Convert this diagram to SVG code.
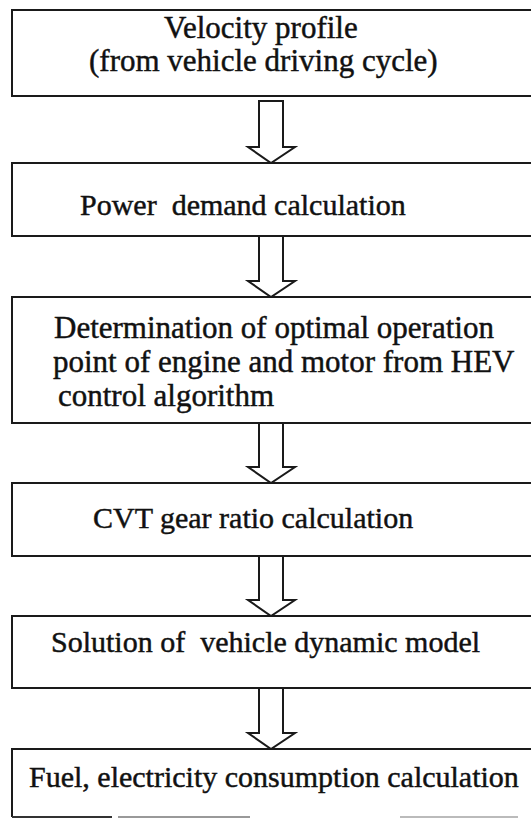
<svg xmlns="http://www.w3.org/2000/svg" width="531" height="819" viewBox="0 0 531 819">
<style>
.box{fill:#fff;stroke:#1a1a1a;stroke-width:2}
.arr{fill:#fff;stroke:#1a1a1a;stroke-width:2;stroke-linejoin:miter}
.t{font-family:"Liberation Serif","Times New Roman",serif;font-size:30px;fill:#111;stroke:#111;stroke-width:0.45;white-space:pre}
</style>
<rect x="0" y="0" width="531" height="819" fill="#fff"/>
<g id="connectors">
<path class="arr" d="M259,101 V147 H248 L271,163 L295,147 H283 V101 Z"/>
<path class="arr" d="M259,237 V281 H248 L271,297 L295,281 H283 V237"/>
<path class="arr" d="M259,424 V467 H248 L271,483 L295,467 H283 V424"/>
<path class="arr" d="M259,557 V600 H248 L271,616 L295,600 H283 V557"/>
<path class="arr" d="M259,688 V733 H248 L271,749 L295,733 H283 V688"/>
</g>
<g id="n1">
<rect class="box" x="12" y="10" width="530" height="86"/>
<text class="t" x="164" y="38" style="font-size:31px">Velocity profile</text>
<text class="t" x="89" y="71" style="font-size:31px">(from vehicle driving cycle)</text>
</g>
<g id="n2">
<rect class="box" x="12" y="163" width="530" height="73"/>
<text class="t" x="80" y="215">Power  demand calculation</text>
</g>
<g id="n3">
<rect class="box" x="12" y="297" width="530" height="126"/>
<text class="t" x="54" y="338" style="font-size:31px">Determination of optimal operation</text>
<text class="t" x="53" y="372" style="font-size:31px">point of engine and motor from HEV</text>
<text class="t" x="58" y="406" style="font-size:31px">control algorithm</text>
</g>
<g id="n4">
<rect class="box" x="12" y="483" width="530" height="73"/>
<text class="t" x="93" y="528">CVT gear ratio calculation</text>
</g>
<g id="n5">
<rect class="box" x="12" y="616" width="530" height="72"/>
<text class="t" x="51" y="652">Solution of  vehicle dynamic model</text>
</g>
<g id="n6">
<path class="box" d="M542,749 H12 V817"/>
<path d="M12,817 H112" stroke="#333" stroke-width="2"/>
<path d="M118,817 H250" stroke="#999" stroke-width="2"/>
<path d="M400,817 H518" stroke="#bbb" stroke-width="2"/>
<text class="t" x="29" y="787">Fuel, electricity consumption calculation</text>
</g>
</svg>
